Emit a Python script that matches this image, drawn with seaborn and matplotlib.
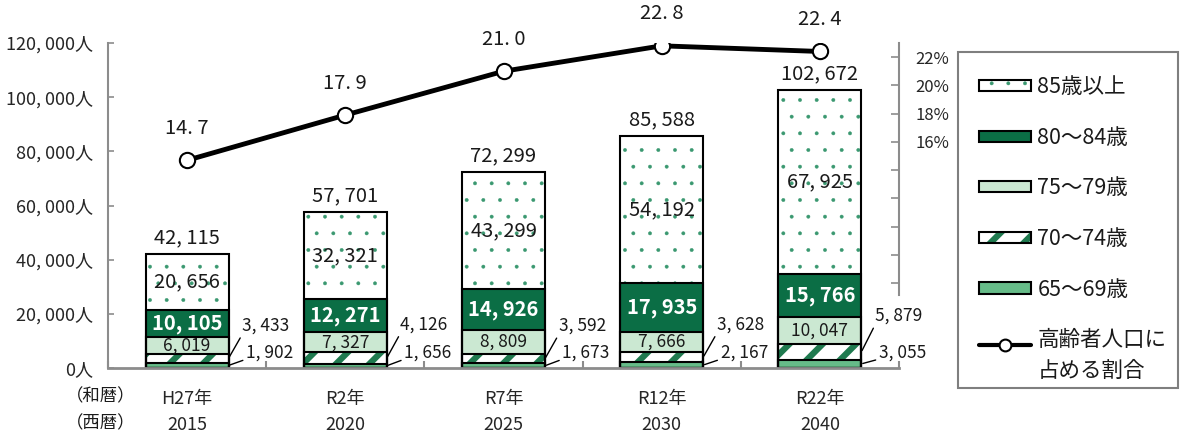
import numpy as np
import pandas as pd
import matplotlib
matplotlib.use("Agg")
import matplotlib.pyplot as plt
import seaborn as sns
from matplotlib.patches import Patch, Rectangle
from matplotlib.lines import Line2D
from matplotlib.legend_handler import HandlerTuple, HandlerLine2D

# ---------------- data ----------------
era_labels = ["H27年", "R2年", "R7年", "R12年", "R22年"]
year_labels = ["2015", "2020", "2025", "2030", "2040"]
group_labels = ["85歳以上", "80～84歳", "75～79歳", "70～74歳", "65～69歳"]
v65 = [1902, 1656, 1673, 2167, 3055]
v70 = [3433, 4126, 3592, 3628, 5879]
v75 = [6019, 7327, 8809, 7666, 10047]
v80 = [10105, 12271, 14926, 17935, 15766]
v85 = [20656, 32321, 43299, 54192, 67925]
totals = [42115, 57701, 72299, 85588, 102672]
ratio = [14.7, 17.9, 21.0, 22.8, 22.4]
left_ticks = [0, 20000, 40000, 60000, 80000, 100000, 120000]
right_ticks = [6, 8, 10, 12, 14, 16, 18, 20, 22]
right_labeled = [16, 18, 20, 22]
line_label = "高齢者人口に\n占める割合"
era_row_label = "（和暦）"
year_row_label = "（西暦）"

# ---------------- style ----------------
sns.set_theme(style="white")
plt.rcParams["font.family"] = ["Noto Sans CJK JP", "DejaVu Sans"]
plt.rcParams["text.color"] = "#1a1a1a"
plt.rcParams["hatch.linewidth"] = 0.3

C_DOT = "#3a9870"
C_DARK = "#0b6e45"
C_LIGHT = "#cbe8d2"
C_STRIPE = "#1f7a4f"
C_MID = "#66bb88"
C_AXIS = "#8c8c8c"
BAR_W = 0.525
EDGE_LW = 1.5
STRIPE_HLW = 4.5


def fmt(v):
    return f"{v:,}".replace(",", ", ")


def thick_hatch(artist, lw):
    artist._hatch_linewidth = lw
    if hasattr(artist, "set_hatch_linewidth"):
        artist.set_hatch_linewidth(lw)
    orig = artist.draw

    def draw(renderer, *a, **k):
        with plt.rc_context({"hatch.linewidth": lw}):
            return orig(renderer, *a, **k)
    artist.draw = draw


df = pd.DataFrame({"era": era_labels})
c1 = np.array(v65)
c2 = c1 + np.array(v70)
c3 = c2 + np.array(v75)
c4 = c3 + np.array(v80)
c5 = c4 + np.array(v85)
df["c1"], df["c2"], df["c3"], df["c4"], df["c5"] = c1, c2, c3, c4, c5

fig = plt.figure(figsize=(11.81, 4.37), dpi=100)
W, H = 1181, 437
ax = fig.add_axes([108 / W, (H - 368) / H, (899 - 108) / W, (368 - 43) / H])

layers = [
    ("c5", dict(color="white", edgecolor=C_DOT, hatch=".", linewidth=0), 0.3),
    ("c4", dict(color=C_DARK, edgecolor=C_DARK, linewidth=0), 0.3),
    ("c3", dict(color=C_LIGHT, edgecolor=C_LIGHT, linewidth=0), 0.3),
    ("c2", dict(color="white", edgecolor=C_STRIPE, hatch="/", linewidth=0), STRIPE_HLW),
    ("c1", dict(color=C_MID, edgecolor=C_MID, linewidth=0), 0.3),
]
for col, kw, hlw in layers:
    n0 = len(ax.patches)
    with plt.rc_context({"hatch.linewidth": hlw}):
        sns.barplot(data=df, x="era", y=col, ax=ax, width=BAR_W, saturation=1,
                    errorbar=None, **kw)
    if hlw != 0.3:
        for p in ax.patches[n0:]:
            thick_hatch(p, hlw)

for col in ["c5", "c4", "c3", "c2", "c1"]:
    n0 = len(ax.patches)
    sns.barplot(data=df, x="era", y=col, ax=ax, width=BAR_W, saturation=1,
                errorbar=None, color="black")
    for p in ax.patches[n0:]:
        p.set_facecolor("none")
        p.set_edgecolor("black")
        p.set_linewidth(EDGE_LW)

ax.set_xlim(-0.5, 4.5)
ax.set_ylim(0, 120000)
ax.set_xlabel("")
ax.set_ylabel("")
ax.set_yticks(left_ticks)
ax.set_yticklabels([fmt(v) + "人" for v in left_ticks], fontsize=13)
ax.tick_params(axis="y", direction="in", length=4, width=1.2, color=C_AXIS, pad=11, left=True)
ax.set_xticks(range(5))
ax.set_xticklabels([f"{e}\n{y}" for e, y in zip(era_labels, year_labels)],
                   fontsize=13, linespacing=1.55)
ax.tick_params(axis="x", length=0, pad=16)
ax.set_xticks(np.arange(-0.5, 5.0, 1.0), minor=True)
ax.tick_params(axis="x", which="minor", direction="in", length=5, width=1.5, color=C_AXIS, bottom=True)
for s in ["top", "right"]:
    ax.spines[s].set_visible(False)
ax.spines["left"].set_color(C_AXIS)
ax.spines["left"].set_linewidth(1.5)
ax.spines["bottom"].set_color(C_AXIS)
ax.spines["bottom"].set_linewidth(2)

# segment labels
for i in range(5):
    ax.text(i, c4[i] + v85[i] / 2, fmt(v85[i]), ha="center", va="center", fontsize=14.5)
    ax.text(i, c3[i] + v80[i] / 2, fmt(v80[i]), ha="center", va="center", fontsize=14.5,
            color="white", fontweight="bold")
    ax.text(i, c2[i] + v75[i] / 2, fmt(v75[i]), ha="center", va="center", fontsize=12.5)
    ax.annotate(fmt(totals[i]), (i, totals[i]), xytext=(0, 16), textcoords="offset pixels",
                ha="center", va="center", fontsize=14.5)
    right = i + BAR_W / 2
    ax.annotate(fmt(v70[i]), (right, c1[i] + v70[i] / 2),
                xytext=(right + 0.235, c2[i] + 10300), textcoords="data",
                ha="center", va="center", fontsize=12.5,
                arrowprops=dict(arrowstyle="-", color="black", lw=1, shrinkA=0, shrinkB=1,
                                relpos=(0.02, 0.1)))
    ax.annotate(fmt(v65[i]), (right, v65[i] / 2),
                xytext=(right + 0.26, 5700), textcoords="data",
                ha="center", va="center", fontsize=12.5,
                arrowprops=dict(arrowstyle="-", color="black", lw=1, shrinkA=0, shrinkB=1,
                                relpos=(0.02, 0.15)))

# ratio line on the secondary axis
ax2 = ax.twinx()
sns.lineplot(x=np.arange(5), y=ratio, ax=ax2, color="black", linewidth=3.5,
             marker="o", markersize=11, markerfacecolor="white",
             markeredgecolor="black", markeredgewidth=1.5, zorder=5)
ax2.set_ylim(0, 23)
ax2.set_yticks(right_ticks)
ax2.set_yticklabels([f"{v}%" if v in right_labeled else "" for v in right_ticks], fontsize=12)
ax2.tick_params(axis="y", direction="in", length=6, width=1.2, color=C_AXIS, pad=12, right=True)
for s in ["top", "left", "bottom"]:
    ax2.spines[s].set_visible(False)
ax2.spines["right"].set_color(C_AXIS)
ax2.spines["right"].set_linewidth(1.5)
ax2.spines["right"].set_bounds(5.15, 23)
ax2.set_xlim(-0.5, 4.5)
for i, r in enumerate(ratio):
    ax2.annotate(f"{r:.1f}".replace(".", ". "), (i, r), xytext=(0, 32), textcoords="offset pixels",
                 ha="center", va="center", fontsize=14.5)

# row labels
fig.text(101 / W, 1 - 396 / H, era_row_label, ha="center", va="center", fontsize=12.5)
fig.text(101 / W, 1 - 423 / H, year_row_label, ha="center", va="center", fontsize=12.5)


# legend
class HandlerLineUp(HandlerLine2D):
    def __init__(self, shift, **kw):
        super().__init__(**kw)
        self.shift = shift

    def create_artists(self, legend, orig_handle, xdescent, ydescent, width, height,
                       fontsize, trans):
        return super().create_artists(legend, orig_handle, xdescent,
                                      ydescent - self.shift * fontsize, width, height,
                                      fontsize, trans)


h85 = (Patch(facecolor="white", edgecolor=C_DOT, hatch=".", linewidth=0),
       Patch(facecolor="none", edgecolor="black", linewidth=EDGE_LW))
h80 = Patch(facecolor=C_DARK, edgecolor="black", linewidth=EDGE_LW)
h75 = Patch(facecolor=C_LIGHT, edgecolor="black", linewidth=EDGE_LW)
with plt.rc_context({"hatch.linewidth": STRIPE_HLW}):
    h70a = Patch(facecolor="white", edgecolor=C_STRIPE, hatch="/", linewidth=0)
h70 = (h70a, Patch(facecolor="none", edgecolor="black", linewidth=EDGE_LW))
h65 = Patch(facecolor=C_MID, edgecolor="black", linewidth=EDGE_LW)
hl = Line2D([], [], color="black", linewidth=3.0, marker="o", markersize=8.5,
            markerfacecolor="white", markeredgecolor="black", markeredgewidth=1.5)
leg = fig.legend([h85, h80, h75, h70, h65, hl], group_labels + [line_label],
                 handler_map={tuple: HandlerTuple(ndivide=1, pad=0),
                              Line2D: HandlerLineUp(shift=1.2)},
                 loc="upper left", bbox_to_anchor=(962 / W, 1 - 59 / H),
                 prop={"size": 15.5}, frameon=False,
                 handlelength=2.4, handleheight=0.42,
                 labelspacing=1.33, borderpad=0.8, handletextpad=0.3, borderaxespad=0)
leg.get_texts()[-1].set_linespacing(1.5)
thick_hatch(leg.legend_handles[3], STRIPE_HLW)
fig.add_artist(Rectangle((958 / W, (H - 388) / H), (1178 - 958) / W, (388 - 52) / H,
                         transform=fig.transFigure, fill=False, edgecolor="#7f7f7f",
                         linewidth=1.5))

fig.savefig("out.png", dpi=100)
